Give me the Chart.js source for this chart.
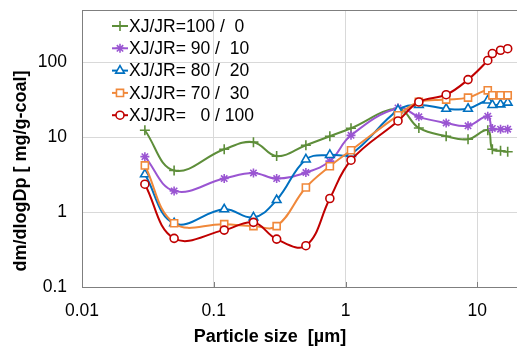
<!DOCTYPE html>
<html><head><meta charset="utf-8">
<script src="https://cdn.jsdelivr.net/npm/chart.js@4"></script>
<style>html,body{margin:0;padding:0;background:#fff;overflow:hidden}</style>
</head><body>
<canvas id="c" width="517" height="348" style="width:517px;height:348px"></canvas>
<script>
// Particle size [µm]
const sizes = [0.03, 0.05, 0.12, 0.2, 0.3, 0.5, 0.76, 1.1, 2.5, 3.6, 5.8, 8.5, 12, 13, 15, 17];
// dm/dlogDp [mg/g-coal]
const s100_0 = [12.4, 3.6, 6.9, 8.6, 5.6, 7.8, 10.3, 13.2, 24, 13.3, 10.3, 9.4, 12.4, 6.9, 6.6, 6.4];
const s90_10 = [5.5, 1.92, 2.81, 3.34, 2.81, 3.38, 4.8, 10.6, 24.6, 18.7, 15.5, 14.2, 19.1, 13.1, 12.8, 12.8];
const s80_20 = [3.2, 0.71, 1.09, 0.85, 1.45, 5.05, 5.8, 6.0, 23, 27, 24, 24, 31, 27, 27.5, 29];
const s70_30 = [4.2, 0.71, 0.69, 0.65, 0.65, 2.13, 4.1, 6.7, 19.6, 29.6, 31.8, 33.8, 42.3, 36.3, 36.3, 36.3];
const s0_100 = [2.36, 0.446, 0.575, 0.73, 0.436, 0.356, 1.52, 4.93, 16.5, 29.6, 37, 58.8, 106, 131, 145, 152];
const seriesLabels = ['XJ/JR=100 /  0', 'XJ/JR= 90 /  10', 'XJ/JR= 80 /  20', 'XJ/JR= 70 /  30', 'XJ/JR=   0 / 100'];
const xTickValues = [0.01, 0.1, 1, 10];
const yTickValues = [0.1, 1, 10, 100];
const xTitle = 'Particle size  [µm]';
const yTitle = 'dm/dlogDp [ mg/g-coal]';

const FONT = '"Liberation Sans", Arial, sans-serif';
const pts = arr => sizes.map((x, i) => ({x, y: arr[i]}));

const styles = [
  {c: '#5E8E3A', ps: 'cross', r: 5, fill: '#5E8E3A', order: 4},
  {c: '#9A55D2', ps: 'star', r: 4.5, fill: '#9A55D2', order: 3},
  {c: '#0070C0', ps: 'triangle', r: 5, fill: '#ffffff', order: 2},
  {c: '#F0883A', ps: 'rect', r: 5, fill: '#ffffff', order: 1},
  {c: '#C00000', ps: 'circle', r: 4, fill: '#ffffff', order: 0}
];
const allData = [s100_0, s90_10, s80_20, s70_30, s0_100];

const datasets = allData.map((d, i) => ({
  label: seriesLabels[i],
  data: pts(d),
  borderColor: styles[i].c,
  backgroundColor: styles[i].fill,
  pointStyle: styles[i].ps,
  pointRadius: styles[i].r,
  pointBorderColor: styles[i].c,
  pointBackgroundColor: styles[i].fill,
  pointBorderWidth: 1.6,
  borderWidth: 2,
  tension: 0.4,
  clip: false,
  order: styles[i].order
}));

const decorPlugin = {
  id: 'decor',
  afterDraw(chart) {
    const {ctx, chartArea: a, scales} = chart;
    ctx.save();
    ctx.strokeStyle = '#7f7f7f';
    ctx.lineWidth = 1;
    ctx.beginPath();
    ctx.moveTo(a.left, a.top + 0.5);
    ctx.lineTo(chart.width, a.top + 0.5);
    ctx.stroke();
    xTickValues.slice(1).forEach(v => {
      const px = Math.round(scales.x.getPixelForValue(v)) + 0.5;
      ctx.beginPath();
      ctx.moveTo(px, a.bottom);
      ctx.lineTo(px, a.bottom - 5);
      ctx.stroke();
    });
    ctx.fillStyle = '#000';
    ctx.font = 'bold 18px ' + FONT;
    ctx.textAlign = 'center';
    ctx.textBaseline = 'middle';
    ctx.fillText(xTitle, 270, 337);
    ctx.save();
    ctx.translate(21, 171);
    ctx.rotate(-Math.PI / 2);
    ctx.fillText(yTitle, 0, 0);
    ctx.restore();
    ctx.font = '17.5px ' + FONT;
    ctx.textAlign = 'left';
    const rows = [26, 48.3, 70.6, 92.9, 115.2];
    chart.data.datasets.forEach((ds, i) => {
      const y = rows[i];
      ctx.strokeStyle = ds.borderColor;
      ctx.lineWidth = 2;
      ctx.beginPath();
      ctx.moveTo(112, y);
      ctx.lineTo(128, y);
      ctx.stroke();
      ctx.fillStyle = ds.pointBackgroundColor;
      ctx.strokeStyle = ds.pointBorderColor;
      ctx.lineWidth = ds.pointBorderWidth;
      Chart.helpers.drawPoint(ctx, {pointStyle: ds.pointStyle, radius: ds.pointRadius, rotation: 0, borderWidth: ds.pointBorderWidth}, 120, y);
      ctx.fillStyle = '#000';
      ctx.fillText(ds.label, 129, y + 1);
    });
    ctx.restore();
  }
};

new Chart(document.getElementById('c'), {
  type: 'line',
  data: {datasets},
  options: {
    responsive: false,
    animation: false,
    layout: {autoPadding: false, padding: {top: 10, right: 0, left: 0, bottom: 0}},
    plugins: {legend: {display: false}, tooltip: {enabled: false}},
    scales: {
      x: {
        type: 'logarithmic',
        min: 0.01, max: 20,
        bounds: 'data',
        afterBuildTicks: s => { s.ticks = xTickValues.map(v => ({value: v})); },
        afterFit: s => { s.height = 61; s.paddingLeft = 0; s.paddingRight = 0; s.paddingTop = 0; s.paddingBottom = 0; },
        grid: {color: '#d9d9d9', drawTicks: false},
        border: {color: '#7f7f7f', width: 1},
        ticks: {color: '#000', font: {family: FONT, size: 17.5}, padding: 14, maxRotation: 0,
          callback: v => String(v)}
      },
      y: {
        type: 'logarithmic',
        min: 0.1, max: 500,
        bounds: 'data',
        afterBuildTicks: s => { s.ticks = yTickValues.map(v => ({value: v})); },
        afterFit: s => { s.width = 82; s.paddingLeft = 0; s.paddingRight = 0; s.paddingTop = 0; s.paddingBottom = 0; },
        grid: {color: '#d9d9d9', drawTicks: false},
        border: {color: '#7f7f7f', width: 1},
        ticks: {color: '#000', font: {family: FONT, size: 17.5}, padding: 15,
          callback: v => String(v)}
      }
    }
  },
  plugins: [decorPlugin]
});
</script>
</body></html>
